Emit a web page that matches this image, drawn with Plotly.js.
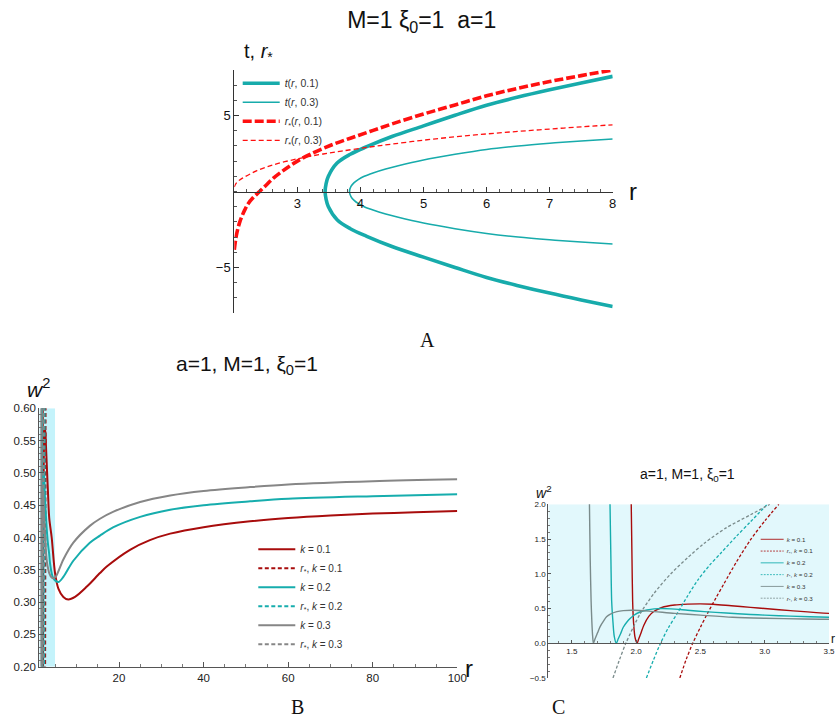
<!DOCTYPE html>
<html><head><meta charset="utf-8">
<script src="https://cdn.plot.ly/plotly-3.0.1.min.js"></script>
<style>html,body{margin:0;padding:0;background:#fff}#chart{width:836px;height:718px}</style>
</head><body><div id="chart"></div>
<script>
// ---------- Panel A data ----------
const A_t01_r = [8, 7.5, 7, 6.5, 6, 5.5, 5, 4.5, 4.1, 3.84, 3.63, 3.49, 3.455, 3.44, 3.455, 3.49, 3.63, 3.84, 4.1, 4.5, 5, 5.5, 6, 6.5, 7, 7.5, 8];
const A_t01_t = [7.58, 7.15, 6.7, 6.22, 5.68, 5.02, 4.32, 3.62, 2.95, 2.45, 1.87, 0.99, 0.5, 0, -0.5, -0.99, -1.86, -2.45, -2.95, -3.62, -4.32, -5.0, -5.66, -6.2, -6.69, -7.14, -7.57];
const A_t03_r = [8, 7.5, 7, 6.5, 6, 5.5, 5, 4.6, 4.4, 4.2, 4.06, 3.97, 3.9, 3.85, 3.826, 3.85, 3.9, 3.97, 4.06, 4.2, 4.4, 4.6, 5, 5.5, 6, 6.5, 7, 7.5, 8];
const A_t03_t = [3.46, 3.33, 3.18, 3.0, 2.77, 2.45, 2.08, 1.7, 1.48, 1.22, 1.0, 0.8, 0.58, 0.33, 0, -0.33, -0.58, -0.8, -1.0, -1.22, -1.48, -1.7, -2.08, -2.45, -2.76, -3.0, -3.18, -3.33, -3.46];
const A_rs01_r = [2.0, 2.02, 2.04, 2.08, 2.12, 2.17, 2.22, 2.3, 2.4, 2.5, 2.62, 2.75, 2.88, 3.0, 3.2, 3.52, 3.84, 4.15, 4.5, 5, 5.5, 6, 6.5, 7, 7.5, 8];
const A_rs01_y = [-3.84, -3.2, -2.74, -2.1, -1.64, -1.18, -0.8, -0.4, 0.0, 0.4, 0.88, 1.3, 1.68, 2.0, 2.45, 3.03, 3.51, 3.95, 4.45, 5.1, 5.7, 6.3, 6.8, 7.24, 7.63, 8.0];
const A_rs03_r = [2.0, 2.02, 2.05, 2.1, 2.14, 2.25, 2.36, 2.5, 2.62, 2.8, 3.0, 3.2, 3.41, 3.7, 4.15, 4.5, 5, 5.5, 6, 6.5, 7, 7.5, 8];
const A_rs03_y = [0.3, 0.48, 0.65, 0.8, 0.9, 1.15, 1.38, 1.6, 1.76, 1.96, 2.15, 2.32, 2.47, 2.66, 2.93, 3.12, 3.38, 3.6, 3.79, 3.96, 4.11, 4.26, 4.39];
const A_xticks = [3, 4, 5, 6, 7, 8];
const A_yticks = [-5, 5];

// ---------- Panels B & C data (same series) ----------
const k01_r = [1.955, 1.962, 1.968, 1.973, 1.98, 1.99, 2.0, 2.008, 2.02, 2.04, 2.06, 2.1, 2.14, 2.2, 2.3, 2.4, 2.5, 2.6, 2.74, 2.89, 3.0, 3.2, 3.5, 4.08, 4.87, 5.66, 6.84, 8.0, 9.6, 12.4, 15.5, 17.1, 22.6, 27.3, 32.1, 40, 51, 60, 70, 80, 90, 100];
const k01_w = [3.0, 2.0, 1.2, 0.6, 0.3, 0.1, 0.03, 0.0, 0.06, 0.16, 0.26, 0.39, 0.46, 0.515, 0.55, 0.563, 0.567, 0.562, 0.54, 0.517, 0.50, 0.47, 0.43, 0.4, 0.345, 0.321, 0.308, 0.304, 0.308, 0.324, 0.345, 0.355, 0.381, 0.396, 0.406, 0.416, 0.425, 0.43, 0.434, 0.437, 0.439, 0.441];
const k02_r = [1.79, 1.797, 1.804, 1.81, 1.82, 1.83, 1.846, 1.86, 1.88, 1.9, 1.93, 1.955, 1.98, 2.03, 2.085, 2.14, 2.2, 2.27, 2.4, 2.53, 2.7, 2.89, 3.0, 3.2, 3.5, 3.69, 4.47, 5.66, 6.84, 9.2, 13.1, 15.5, 18.7, 25.0, 32.1, 40, 51, 60, 80, 100];
const k02_w = [3.0, 2.0, 1.2, 0.6, 0.3, 0.1, 0.0, 0.06, 0.14, 0.23, 0.31, 0.36, 0.40, 0.45, 0.478, 0.495, 0.50, 0.495, 0.475, 0.455, 0.435, 0.415, 0.405, 0.39, 0.374, 0.36, 0.337, 0.331, 0.339, 0.364, 0.392, 0.403, 0.416, 0.432, 0.443, 0.45, 0.456, 0.46, 0.464, 0.467];
const k03_r = [1.63, 1.637, 1.643, 1.65, 1.656, 1.662, 1.668, 1.68, 1.7, 1.72, 1.75, 1.77, 1.8, 1.85, 1.9, 1.98, 2.1, 2.3, 2.5, 2.75, 3.0, 3.3, 3.5, 4.08, 4.5, 5.1, 6.84, 9.2, 13.1, 15.5, 18.7, 25.0, 32.1, 40, 51, 60, 80, 100];
const k03_w = [3.0, 2.0, 1.2, 0.6, 0.3, 0.1, 0.0, 0.06, 0.15, 0.24, 0.33, 0.38, 0.42, 0.455, 0.47, 0.475, 0.462, 0.43, 0.405, 0.375, 0.36, 0.35, 0.345, 0.338, 0.337, 0.34, 0.366, 0.392, 0.418, 0.429, 0.44, 0.455, 0.465, 0.472, 0.478, 0.482, 0.487, 0.49];
const rs01_r = [2.34, 2.39, 2.44, 2.5, 2.555, 2.62, 2.684, 2.78, 2.89, 3.0, 3.11];
const rs01_w = [-0.5, -0.23, 0, 0.23, 0.43, 0.65, 0.86, 1.17, 1.49, 1.76, 2.0];
const rs02_r = [2.08, 2.135, 2.19, 2.25, 2.32, 2.4, 2.48, 2.57, 2.66, 2.78, 2.89, 3.02];
const rs02_w = [-0.5, -0.24, 0, 0.22, 0.43, 0.68, 0.91, 1.12, 1.30, 1.54, 1.75, 2.0];
const rs03_r = [1.82, 1.87, 1.92, 2.03, 2.14, 2.27, 2.4, 2.53, 2.7, 2.89, 3.04];
const rs03_w = [-0.5, -0.24, 0, 0.42, 0.72, 1.0, 1.23, 1.44, 1.66, 1.85, 2.0];
const bandB_r = [1.15, 4.87];
const bandB_w = [0.2, 0.6];
const bandC_r = [1.317, 3.5];
const bandC_w = [0, 2];
const B_xticks = [20, 40, 60, 80, 100];
const C_xticks = [1.5, 2.0, 2.5, 3.0, 3.5];

const teal = '#17abab', red = '#ff1010';
const redB = '#a80c0c', tealB = '#16adad', grayB = '#868686', grayC = '#7a8b8b';
const FONT = 'Liberation Sans, Arial, sans-serif';

function band(rr, ww, xa, ya, color) {
  return {x: [rr[0], rr[1], rr[1], rr[0], rr[0]], y: [ww[0], ww[0], ww[1], ww[1], ww[0]],
    xaxis: xa, yaxis: ya, mode: 'lines', fill: 'toself', fillcolor: color,
    line: {width: 0, color: color}, showlegend: false, hoverinfo: 'skip'};
}
function ln(x, y, xa, ya, name, color, width, dash, legend, shape, smooth) {
  const line = {color: color, width: width, dash: dash || 'solid', shape: shape || 'linear'};
  if (shape === 'spline') line.smoothing = smooth || 1;
  return {x: x, y: y, xaxis: xa, yaxis: ya, mode: 'lines', name: name, legend: legend, line: line};
}

const rsName = k => '<i>r</i><sub>*</sub>, <i>k</i> = ' + k;
const kName = k => '<i>k</i> = ' + k;

const data = [
  band(bandB_r, bandB_w, 'x2', 'y2', '#c4f3fb'),
  band(bandC_r, bandC_w, 'x3', 'y3', '#e2f8fc'),
  // A
  ln(A_t01_r, A_t01_t, 'x', 'y', '<i>t</i>(<i>r</i>, 0.1)', teal, 3.6, 'solid', 'legend', 'spline'),
  ln(A_t03_r, A_t03_t, 'x', 'y', '<i>t</i>(<i>r</i>, 0.3)', teal, 1.6, 'solid', 'legend', 'spline'),
  ln(A_rs01_r, A_rs01_y, 'x', 'y', '<i>r</i><sub>*</sub>(<i>r</i>, 0.1)', red, 3.6, '9px,3px', 'legend', 'spline'),
  ln(A_rs03_r, A_rs03_y, 'x', 'y', '<i>r</i><sub>*</sub>(<i>r</i>, 0.3)', red, 1.3, '5px,3px', 'legend', 'spline'),
  // B
  ln(k01_r, k01_w, 'x2', 'y2', kName('0.1'), redB, 2, 'solid', 'legend2', 'spline', 0.9),
  ln(rs01_r, rs01_w, 'x2', 'y2', rsName('0.1'), redB, 2, '4px,2.5px', 'legend2'),
  ln(k02_r, k02_w, 'x2', 'y2', kName('0.2'), tealB, 2, 'solid', 'legend2', 'spline', 0.9),
  ln(rs02_r, rs02_w, 'x2', 'y2', rsName('0.2'), tealB, 2, '4px,2.5px', 'legend2'),
  ln(k03_r, k03_w, 'x2', 'y2', kName('0.3'), grayB, 2, 'solid', 'legend2', 'spline', 0.9),
  ln(rs03_r, rs03_w, 'x2', 'y2', rsName('0.3'), grayB, 2, '4px,2.5px', 'legend2'),
  // C
  ln(k01_r, k01_w, 'x3', 'y3', kName('0.1'), redB, 1.4, 'solid', 'legend3', 'spline', 0.8),
  ln(rs01_r, rs01_w, 'x3', 'y3', rsName('0.1'), redB, 1.3, '3px,2px', 'legend3', 'spline', 0.8),
  ln(k02_r, k02_w, 'x3', 'y3', kName('0.2'), tealB, 1.4, 'solid', 'legend3', 'spline', 0.8),
  ln(rs02_r, rs02_w, 'x3', 'y3', rsName('0.2'), tealB, 1.3, '3px,2px', 'legend3', 'spline', 0.8),
  ln(k03_r, k03_w, 'x3', 'y3', kName('0.3'), grayC, 1.4, 'solid', 'legend3', 'spline', 0.8),
  ln(rs03_r, rs03_w, 'x3', 'y3', rsName('0.3'), grayC, 1.3, '3px,2px', 'legend3', 'spline', 0.8)
];

const W = 836, H = 718;
const px = v => v / W, py = v => 1 - v / H;
const axBase = {showgrid: false, zeroline: false, showline: true, ticks: 'inside', fixedrange: true};

const layout = {
  width: W, height: H,
  margin: {l: 0, r: 0, t: 0, b: 0, autoexpand: false},
  paper_bgcolor: '#ffffff', plot_bgcolor: 'rgba(0,0,0,0)',
  font: {family: FONT, color: '#222'},
  title: {text: 'M=1 ξ<sub>0</sub>=1\u00a0\u00a0a=1', x: px(421.7), xref: 'paper', xanchor: 'center',
    y: py(20), yref: 'container', yanchor: 'middle', font: {family: FONT, size: 23, color: '#111'}},
  // Panel A
  xaxis: Object.assign({}, axBase, {domain: [px(234.3), px(612.7)], range: [2, 8], anchor: 'free', position: py(191.7),
    linecolor: '#333', linewidth: 1, tickcolor: '#333', ticklen: 5, tickmode: 'array', tickvals: A_xticks,
    ticktext: A_xticks.map(String), tickfont: {size: 13, color: '#111'},
    minor: {dtick: 0.2, tick0: 2, ticklen: 2.5, ticks: 'inside', tickcolor: '#555'}}),
  yaxis: Object.assign({}, axBase, {domain: [py(313), py(70)], range: [-8, 8], anchor: 'x',
    linecolor: '#333', linewidth: 1, tickcolor: '#333', ticklen: 5, tickmode: 'array', tickvals: A_yticks,
    ticktext: A_yticks.map(v => v < 0 ? '\u2212' + Math.abs(v) : String(v)), tickfont: {size: 13, color: '#111'},
    minor: {dtick: 1, tick0: 0, ticklen: 2.5, ticks: 'inside', tickcolor: '#555'}}),
  // Panel B
  xaxis2: Object.assign({}, axBase, {domain: [px(39.3), px(457.3)], range: [1.15, 100], anchor: 'y2',
    linecolor: '#555', tickcolor: '#555', ticklen: 5, tickmode: 'array', tickvals: B_xticks,
    ticktext: B_xticks.map(String), tickfont: {size: 11.5, color: '#222'},
    minor: {dtick: 5, tick0: 0, ticklen: 3, ticks: 'inside', tickcolor: '#777'}}),
  yaxis2: Object.assign({}, axBase, {domain: [py(666.7), py(408.3)], range: [0.2, 0.6], anchor: 'x2',
    linecolor: '#555', tickcolor: '#555', ticklen: 5, dtick: 0.05, tick0: 0.2, tickformat: '.2f',
    tickfont: {size: 11.5, color: '#222'},
    minor: {dtick: 0.01, tick0: 0.2, ticklen: 3, ticks: 'inside', tickcolor: '#777'}}),
  // Panel C
  xaxis3: Object.assign({}, axBase, {domain: [px(548.3), px(829)], range: [1.317, 3.5], anchor: 'free', position: py(643.3),
    linecolor: '#555', tickcolor: '#555', ticklen: 3, tickmode: 'array', tickvals: C_xticks,
    ticktext: C_xticks.map(v => v.toFixed(1)), tickfont: {size: 8, color: '#222'},
    minor: {dtick: 0.1, tick0: 0, ticklen: 2, ticks: 'inside', tickcolor: '#777'}}),
  yaxis3: Object.assign({}, axBase, {domain: [py(678), py(504.3)], range: [-0.5, 2], anchor: 'x3',
    linecolor: '#555', tickcolor: '#555', ticklen: 3, dtick: 0.5, tick0: 0, tickformat: '.1f',
    tickfont: {size: 8, color: '#222'},
    minor: {dtick: 0.1, tick0: 0, ticklen: 2, ticks: 'inside', tickcolor: '#777'}}),
  legend: {x: px(237.7), y: py(68.8), xanchor: 'left', yanchor: 'top', bgcolor: 'rgba(0,0,0,0)', itemwidth: 37,
    borderwidth: 0, font: {family: FONT, size: 10.5, color: '#333'}, traceorder: 'normal'},
  legend2: {x: px(253.3), y: py(534.8), xanchor: 'left', yanchor: 'top', bgcolor: 'rgba(0,0,0,0)', itemwidth: 37,
    borderwidth: 0, font: {family: FONT, size: 10, color: '#333'}, traceorder: 'normal'},
  legend3: {x: px(757.6), y: py(530.3), xanchor: 'left', yanchor: 'top', bgcolor: 'rgba(0,0,0,0)', itemwidth: 37,
    borderwidth: 0, font: {family: FONT, size: 10, color: '#333'}, traceorder: 'normal'},
  annotations: [
    {text: 't, <i>r</i><sub>*</sub>', x: px(258), y: py(52), xref: 'paper', yref: 'paper', showarrow: false,
      xanchor: 'center', yanchor: 'middle', font: {family: FONT, size: 20, color: '#111'}},
    {text: 'r', x: px(627), y: py(191), xref: 'paper', yref: 'paper', showarrow: false,
      xanchor: 'left', yanchor: 'middle', font: {family: FONT, size: 24, color: '#111'}},
    {text: 'A', x: px(427), y: py(340), xref: 'paper', yref: 'paper', showarrow: false,
      xanchor: 'center', yanchor: 'middle', font: {family: 'Liberation Serif, serif', size: 20, color: '#111'}},
    {text: 'a=1, M=1, ξ<sub>0</sub>=1', x: px(247.5), y: py(365), xref: 'paper', yref: 'paper', showarrow: false,
      xanchor: 'center', yanchor: 'middle', font: {family: FONT, size: 21, color: '#111'}},
    {text: '<i>w</i><sup>2</sup>', x: px(38), y: py(388), xref: 'paper', yref: 'paper', showarrow: false,
      xanchor: 'center', yanchor: 'middle', font: {family: FONT, size: 21, color: '#111'}},
    {text: 'r', x: px(463), y: py(668), xref: 'paper', yref: 'paper', showarrow: false,
      xanchor: 'left', yanchor: 'middle', font: {family: FONT, size: 24, color: '#111'}},
    {text: 'B', x: px(297), y: py(707), xref: 'paper', yref: 'paper', showarrow: false,
      xanchor: 'center', yanchor: 'middle', font: {family: 'Liberation Serif, serif', size: 20, color: '#111'}},
    {text: 'a=1, M=1, ξ<sub>0</sub>=1', x: px(687), y: py(475), xref: 'paper', yref: 'paper', showarrow: false,
      xanchor: 'center', yanchor: 'middle', font: {family: FONT, size: 14, color: '#111'}},
    {text: '<i>w</i><sup>2</sup>', x: px(544), y: py(492), xref: 'paper', yref: 'paper', showarrow: false,
      xanchor: 'center', yanchor: 'middle', font: {family: FONT, size: 14, color: '#111'}},
    {text: 'r', x: px(829), y: py(639), xref: 'paper', yref: 'paper', showarrow: false,
      xanchor: 'left', yanchor: 'middle', font: {family: FONT, size: 12, color: '#111'}},
    {text: 'C', x: px(558), y: py(707), xref: 'paper', yref: 'paper', showarrow: false,
      xanchor: 'center', yanchor: 'middle', font: {family: 'Liberation Serif, serif', size: 20, color: '#111'}}
  ]
};

Plotly.newPlot('chart', data, layout, {staticPlot: true, displayModeBar: false}).then(function (gd) {
  const g = gd.querySelector('g.legend3');
  if (g) {
    const t = g.getAttribute('transform') || '';
    g.setAttribute('transform', t + ' scale(0.62)');
  }
});
</script>
</body></html>
